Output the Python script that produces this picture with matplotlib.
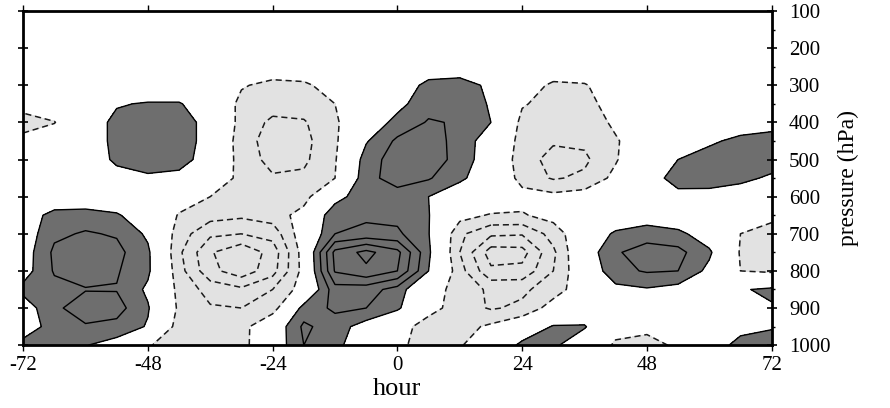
import numpy as np
import matplotlib
matplotlib.use("Agg")
import matplotlib.pyplot as plt

plt.rcParams['font.family'] = ['Liberation Serif', 'DejaVu Serif']
plt.rcParams['axes.unicode_minus'] = False

# grid: hours every 6 h, pressure every 50 hPa
hours = [-72, -66, -60, -54, -48, -42, -36, -30, -24, -18, -12, -6, 0,
         6, 12, 18, 24, 30, 36, 42, 48, 54, 60, 66, 72]
pressures = [100, 150, 200, 250, 300, 350, 400, 450, 500, 550,
             600, 650, 700, 750, 800, 850, 900, 950, 1000]

# anomaly values along each pressure level (contour interval 1)
p100 = [0] * 25
p150 = [0] * 25
p200 = [0] * 25
p250 = [0, 0, 0, 0, 0, 0, 0, -0.2, -0.3, -0.2, 0, 0, 0, 0.3, 0.4, 0.2, 0, -0.2, -0.1, 0, 0, 0, 0, 0, 0]
p300 = [0, 0, 0, 0, 0, 0, -0.2, -0.9, -1.3, -1.2, -0.5, 0, 0.3, 1.3, 1.4, 0.8, -0.4, -1.2, -1.1, -0.3, 0, 0, 0, 0, 0]
p350 = [-0.6, -0.2, 0, 0.9, 1.1, 1.1, 0.2, -1.3, -1.6, -1.5, -1.0, -0.3, 0.7, 1.6, 1.6, 0.9, -0.9, -1.4, -1.3, -0.6, 0, 0, 0, 0, 0]
p400 = [-1.4, -1.05, 0.3, 1.3, 1.6, 1.5, 0.6, -1.4, -2.2, -2.1, -1.2, 0.3, 1.3, 2.1, 1.9, 1.0, -1.3, -1.7, -1.6, -0.8, 0, 0, 0, 0.3, 0.6]
p450 = [-0.7, -0.2, 0.3, 1.3, 1.7, 1.5, 0.6, -1.6, -2.4, -2.3, -1.2, 0.9, 2.2, 2.4, 1.7, 0.3, -1.4, -1.9, -1.8, -1.1, -0.3, 0, 0.8, 1.3, 1.4]
p500 = [0, 0, 0.3, 1.2, 1.6, 1.4, 0.5, -1.5, -2.3, -2.2, -1.1, 1.5, 2.5, 2.6, 1.6, 0.3, -1.6, -2.3, -2.2, -1.1, 0.2, 1.0, 1.5, 1.6, 1.6]
p550 = [0, 0, 0.2, 0.6, 0.8, 0.7, 0.1, -1.4, -1.9, -1.8, -1.0, 1.7, 2.4, 2.1, 1.2, 0.3, -1.4, -2.1, -1.8, -0.7, 0.5, 1.4, 1.5, 1.3, 0.8]
p600 = [0, 0, 0, 0.3, 0, -0.3, -1.0, -1.5, -1.5, -1.4, 0.5, 1.8, 1.6, 1.0, 0.3, 0, -0.6, -0.7, -0.5, 0, 0.2, 0.7, 0.6, 0.3, 0]
p650 = [0.3, 1.4, 1.5, 1.1, 0.4, -1.1, -1.6, -1.8, -1.5, -0.6, 1.8, 1.8, 1.7, 1.05, -0.6, -1.1, -1.1, -0.6, 0, 0, 0.3, 0, 0, 0, -0.6]
p700 = [0.3, 1.8, 2.1, 1.9, 0.8, -1.5, -2.8, -3.0, -2.6, -0.3, 2.0, 2.3, 2.2, 1.05, -1.8, -2.8, -2.9, -1.6, 0, 1.2, 1.6, 1.3, 0.3, -1.0, -1.6]
p750 = [0.4, 2.2, 2.7, 2.3, 1.2, -1.8, -3.9, -4.8, -3.6, -0.5, 4.3, 5.3, 4.3, 1.2, -2.0, -4.5, -4.4, -2.2, 0.3, 1.9, 2.4, 2.3, 1.2, -1.1, -1.5]
p800 = [0.5, 2.1, 2.4, 2.1, 1.2, -1.6, -3.7, -4.6, -3.4, -0.6, 4.1, 4.8, 4.0, 1.0, -1.6, -3.8, -3.7, -2.0, 0, 1.7, 2.1, 2.0, 0.7, -1.0, -1.2]
p850 = [1.3, 1.7, 1.95, 1.95, 0.8, -1.3, -2.4, -2.8, -2.0, -0.5, 2.6, 2.45, 1.6, -0.5, -1.4, -2.2, -2.2, -1.5, -0.3, 0.7, 0.9, 0.6, 0, 0.9, 1.2]
p900 = [0.4, 1.8, 2.5, 2.4, 1.1, -1.2, -1.9, -2.0, -1.5, 1.4, 2.2, 2.0, 1.2, -0.6, -1.5, -2.1, -1.8, -0.5, 0, 0, 0, 0, 0, 0.3, 0.9]
p950 = [0.3, 1.5, 1.9, 1.7, 0.9, -1.5, -1.6, -1.4, 0.1, 2.2, 1.5, 0.5, -0.5, -1.5, -1.4, -0.8, 0, 1.1, 1.1, -0.5, -0.7, 0, 0, 0.6, 0.9]
p1000 = [1.4, 1.3, 1.05, 0.5, -0.9, -1.6, -1.7, -1.4, 0.2, 2.0, 1.3, 0.2, -0.8, -1.4, -1.1, -0.2, 1.3, 1.2, 0.2, -1.2, -1.4, -0.8, 0.3, 1.4, 1.5]

field = np.array([p100, p150, p200, p250, p300, p350, p400, p450, p500, p550,
                  p600, p650, p700, p750, p800, p850, p900, p950, p1000])

fig, ax = plt.subplots(figsize=(8.9, 4.08), dpi=100)
fig.subplots_adjust(left=0.026, right=0.867, top=0.973, bottom=0.154)

# shading: light grey below -1, dark grey above +1
ax.contourf(hours, pressures, field, levels=[-100, -1, 1, 100],
            colors=['#e2e2e2', 'none', '#6e6e6e'])
ax.contour(hours, pressures, field, levels=[-5, -4, -3, -2, -1],
           colors='#1a1a1a', linewidths=1.1, linestyles=[(0, (4, 2.5))])
ax.contour(hours, pressures, field, levels=[1, 2, 3, 4, 5],
           colors='black', linewidths=1.0, linestyles='solid')

ax.set_xlim(-72, 72)
ax.set_ylim(1000, 100)
ax.set_xticks(range(-72, 73, 24))
ax.set_yticks(range(100, 1001, 100))
ax.set_yticks(range(150, 1000, 100), minor=True)
ax.yaxis.tick_right()
ax.yaxis.set_label_position('right')

ax.tick_params(axis='x', which='major', top=True, direction='out', length=4,
               width=1, labelsize=15, pad=4)
ax.tick_params(axis='y', which='major', left=True, right=True, direction='inout',
               length=7, width=1.2, labelsize=15, pad=9)
ax.tick_params(axis='y', which='minor', left=False, right=True, direction='out',
               length=2.5, width=1)

ax.set_xlabel('hour', fontsize=19, labelpad=2)
ax.set_ylabel('pressure (hPa)', fontsize=17, labelpad=5)

for s in ax.spines.values():
    s.set_linewidth(2)

fig.savefig('out.png', dpi=100)
